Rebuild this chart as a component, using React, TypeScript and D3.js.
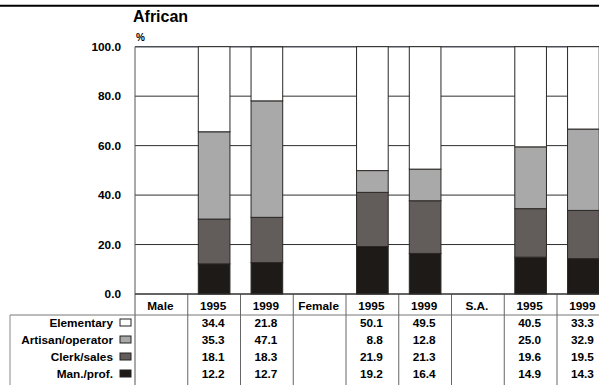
import React from "react";
import * as d3 from "d3";

const title = "African";
const columns = ["Male", "1995", "1999", "Female", "1995", "1999", "S.A.", "1995", "1999"];
const isBar = [false, true, true, false, true, true, false, true, true];
const seriesNames = ["Elementary", "Artisan/operator", "Clerk/sales", "Man./prof."];
const seriesColors = ["#ffffff", "#a9a9a9", "#625d5a", "#1e1a17"];
// values per bar column (null for group header columns)
const elementary = [null, 34.4, 21.8, null, 50.1, 49.5, null, 40.5, 33.3];
const artisan = [null, 35.3, 47.1, null, 8.8, 12.8, null, 25.0, 32.9];
const clerk = [null, 18.1, 18.3, null, 21.9, 21.3, null, 19.6, 19.5];
const manprof = [null, 12.2, 12.7, null, 19.2, 16.4, null, 14.9, 14.3];
const yTicks = [0, 20, 40, 60, 80, 100];

const W = 599;
const H = 385;
const font = "'Liberation Sans', Arial, Helvetica, sans-serif";
const FS = 11.8;

export default function App() {
  const x = d3.scaleBand<number>().domain(d3.range(columns.length)).range([135, 135 + 9 * 52.75]).padding(0);
  const y = d3.scaleLinear().domain([0, 100]).range([294, 46.7]);
  const barW = x.bandwidth() * 0.6;

  const stackOrder = [manprof, clerk, artisan, elementary]; // bottom to top
  const stackColors = [seriesColors[3], seriesColors[2], seriesColors[1], seriesColors[0]];
  const tableRows = [elementary, artisan, clerk, manprof];

  const axisY = y(0);
  const headerY = 315;
  const rowYs = [322.5, 339.5, 356.5, 373.5];

  const bars: React.ReactNode[] = [];
  columns.forEach((_, i) => {
    if (!isBar[i]) return;
    let acc = 0;
    stackOrder.forEach((arr, s) => {
      const v = arr[i] as number;
      const y0 = y(acc);
      const y1 = y(acc + v);
      acc += v;
      bars.push(
        <rect
          key={`b${i}-${s}`}
          x={(x(i) as number) + (x.bandwidth() - barW) / 2}
          y={y1}
          width={barW}
          height={y0 - y1}
          fill={stackColors[s]}
          stroke="#2a2725"
          strokeWidth={1}
        />
      );
    });
  });

  return (
    <div style={{ position: "fixed", left: 0, top: 0, width: W, height: H, background: "#fff" }}>
      <svg width={W} height={H} style={{ display: "block" }} fontFamily={font} fontWeight="bold">
        <rect x={0} y={0} width={W} height={H} fill="#fff" />
        <line x1={0} x2={W} y1={5.8} y2={5.8} stroke="#000" strokeWidth={2} />
        <text x={133} y={22} fontSize={16}>{title}</text>
        <text x={136} y={41} fontSize={10}>%</text>

        {/* gridlines */}
        {yTicks.map((t) => (
          <line key={`g${t}`} x1={135} x2={W} y1={y(t)} y2={y(t)} stroke={t === 100 ? "#4a4f55" : "#2f2f2f"} strokeWidth={t === 100 ? 1.5 : 1} />
        ))}
        {yTicks.map((t) => (
          <text key={`t${t}`} x={121} y={y(t)} dy="0.36em" fontSize={FS} textAnchor="end">{t.toFixed(1)}</text>
        ))}
        {/* left axis */}
        <line x1={135} x2={135} y1={y(100)} y2={H} stroke="#555" strokeWidth={1} />

        {bars}

        {/* table */}
        <line x1={10} x2={W} y1={headerY} y2={headerY} stroke="#777" strokeWidth={1} />
        <line x1={10} x2={10} y1={headerY} y2={H} stroke="#888" strokeWidth={1} />
        {columns.map((_, i) => (
          i > 0 ? <line key={`v${i}`} x1={x(i) as number} x2={x(i) as number} y1={axisY} y2={H} stroke="#666" strokeWidth={1} /> : null
        ))}
        <line x1={135} x2={W} y1={axisY} y2={axisY} stroke="#333" strokeWidth={1} />
        {columns.map((c, i) => (
          <text key={`h${i}`} x={(x(i) as number) + x.bandwidth() / 2 - 1} y={306} dy="0.36em" fontSize={FS} textAnchor="middle">{c}</text>
        ))}
        {seriesNames.map((n, r) => (
          <g key={`r${r}`}>
            <text x={113} y={rowYs[r]} dy="0.36em" fontSize={FS} textAnchor="end">{n}</text>
            <rect x={120} y={rowYs[r] - 3.5} width={11} height={7} fill={seriesColors[r]} stroke="#222" strokeWidth={1} />
            {columns.map((_, i) => {
              const v = tableRows[r][i];
              if (v == null) return null;
              return (
                <text key={`c${r}-${i}`} x={(x(i) as number) + x.bandwidth() / 2 + 10.5} y={rowYs[r]} dy="0.36em" fontSize={FS} textAnchor="end">{(v as number).toFixed(1)}</text>
              );
            })}
          </g>
        ))}
      </svg>
    </div>
  );
}
